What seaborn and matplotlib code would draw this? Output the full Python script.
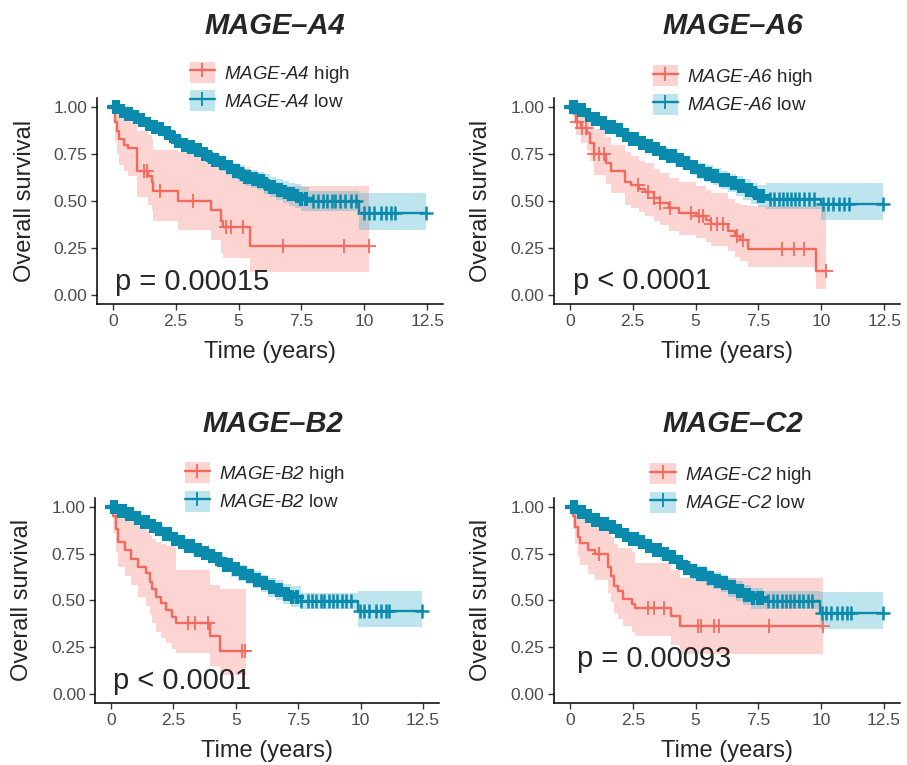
import numpy as np
import pandas as pd
import matplotlib
matplotlib.use("Agg")
import matplotlib.pyplot as plt
from matplotlib.patches import Patch
from matplotlib.lines import Line2D
import seaborn as sns

sns.set_style("ticks")
plt.rcParams["font.family"] = ["Liberation Sans", "DejaVu Sans"]
plt.rcParams["mathtext.fontset"] = "custom"
plt.rcParams["mathtext.rm"] = "Liberation Sans:italic"
plt.rcParams["mathtext.it"] = "Liberation Sans:italic"
plt.rcParams["mathtext.bf"] = "Liberation Sans:bold"

# ---------------- data ----------------
genes = ["A4", "A6", "B2", "C2"]
pvals = ["p = 0.00015", "p < 0.0001", "p < 0.0001", "p = 0.00093"]

# ---- MAGE-A4 ----
a4_high_t = [0, 0.1, 0.17, 0.25, 0.45, 0.62, 0.95, 1.4, 1.55, 1.6, 2.6, 3.92, 4.3, 4.38, 5.45]
a4_high_s = [1.0, 0.92, 0.87, 0.83, 0.80, 0.78, 0.66, 0.63, 0.60, 0.55, 0.50, 0.45, 0.39, 0.36, 0.26]
a4_high_lo = [1.0, 0.82, 0.75, 0.69, 0.66, 0.63, 0.52, 0.48, 0.45, 0.39, 0.345, 0.29, 0.22, 0.195, 0.12]
a4_high_hi = [1.0, 1.0, 0.99, 0.97, 0.95, 0.93, 0.87, 0.85, 0.83, 0.77, 0.76, 0.73, 0.70, 0.68, 0.58]
a4_high_end = 10.2
a4_high_cens = [1.25, 1.38, 1.88, 3.2, 4.5, 4.72, 5.19, 6.77, 9.2, 10.2]

a4_low_t = [0, 0.25, 0.5, 0.75, 1.0, 1.25, 1.5, 1.75, 2.0, 2.25, 2.5, 2.75, 3.0, 3.25, 3.5, 3.75,
            4.0, 4.25, 4.5, 4.75, 5.0, 5.25, 5.5, 5.75, 6.0, 6.25, 6.5, 6.75, 7.0, 7.25, 7.5, 7.8, 9.8]
a4_low_s = [1.0, 0.98, 0.965, 0.945, 0.93, 0.91, 0.895, 0.88, 0.86, 0.84, 0.82, 0.80, 0.785, 0.77, 0.75, 0.735,
            0.72, 0.70, 0.68, 0.66, 0.645, 0.625, 0.615, 0.605, 0.59, 0.575, 0.56, 0.545, 0.535, 0.525, 0.51, 0.497, 0.435]
a4_low_lo = [1.0, 0.97, 0.952, 0.93, 0.913, 0.892, 0.875, 0.858, 0.836, 0.815, 0.793, 0.772, 0.755, 0.738, 0.716, 0.70,
             0.683, 0.661, 0.64, 0.618, 0.601, 0.579, 0.567, 0.555, 0.538, 0.521, 0.504, 0.487, 0.474, 0.462, 0.445, 0.445, 0.345]
a4_low_hi = [1.0, 0.99, 0.978, 0.96, 0.947, 0.928, 0.915, 0.902, 0.884, 0.865, 0.847, 0.828, 0.815, 0.802, 0.784, 0.77,
             0.757, 0.739, 0.72, 0.702, 0.689, 0.671, 0.663, 0.655, 0.642, 0.629, 0.616, 0.603, 0.596, 0.588, 0.575, 0.55, 0.543]
a4_low_end = 12.45
a4_low_cens = [0.05, 0.12, 0.2, 0.33, 0.41, 0.52, 0.66, 0.74, 0.88, 0.97, 1.1, 1.22, 1.37, 1.46, 1.6, 1.72,
               1.86, 1.95, 2.1, 2.24, 2.38, 2.5, 2.63, 2.79, 2.9, 3.05, 3.18, 3.31, 3.47, 3.6, 3.72, 3.88,
               4.0, 4.14, 4.29, 4.41, 4.57, 4.7, 4.83, 4.98, 5.12, 5.25, 5.4, 5.56, 5.69, 5.82, 5.97, 6.1,
               6.26, 6.4, 6.55, 6.7, 6.86, 7.0, 7.16, 7.32, 7.5, 7.68,
               7.96, 8.15, 8.35, 8.5, 8.7, 8.85, 9.05, 9.25, 9.45, 9.65,
               10.0, 10.2, 10.4, 10.65, 10.85, 11.05, 11.2, 12.45]

# ---- MAGE-A6 ----
a6_high_t = [0, 0.15, 0.25, 0.45, 0.7, 0.8, 0.95, 1.43, 1.63, 2.2, 2.45, 2.75, 3.0, 3.35, 3.6, 3.95,
             4.33, 5.0, 5.4, 5.6, 6.3, 6.55, 6.75, 7.1, 9.8]
a6_high_s = [1.0, 0.96, 0.92, 0.89, 0.86, 0.81, 0.75, 0.70, 0.66, 0.60, 0.585, 0.565, 0.545, 0.515, 0.49, 0.46,
             0.435, 0.42, 0.40, 0.375, 0.34, 0.31, 0.29, 0.245, 0.125]
a6_high_lo = [1.0, 0.91, 0.85, 0.81, 0.77, 0.71, 0.64, 0.59, 0.54, 0.48, 0.46, 0.44, 0.42, 0.39, 0.37, 0.34,
              0.32, 0.30, 0.28, 0.26, 0.23, 0.20, 0.18, 0.145, 0.03]
a6_high_hi = [1.0, 1.0, 0.99, 0.97, 0.95, 0.92, 0.88, 0.84, 0.80, 0.76, 0.74, 0.71, 0.70, 0.67, 0.65, 0.62,
              0.60, 0.58, 0.56, 0.54, 0.51, 0.49, 0.48, 0.47, 0.47]
a6_high_end = 10.2
a6_high_cens = [0.3, 0.5, 0.63, 0.96, 1.16, 1.36, 2.7, 3.1, 3.35, 3.6, 4.0, 4.8, 5.13, 5.3, 5.6, 5.85,
                6.1, 6.65, 6.9, 8.45, 8.9, 9.3, 10.2]

a6_low_t = [0, 0.3, 0.6, 0.9, 1.2, 1.5, 1.8, 2.1, 2.4, 2.7, 3.0, 3.3, 3.6, 3.9, 4.2, 4.5, 4.8, 5.1,
            5.4, 5.7, 6.0, 6.3, 6.6, 6.9, 7.2, 7.5, 7.8, 10.0]
a6_low_s = [1.0, 0.985, 0.955, 0.935, 0.915, 0.895, 0.875, 0.85, 0.83, 0.81, 0.79, 0.775, 0.755, 0.74, 0.72,
            0.70, 0.68, 0.66, 0.645, 0.63, 0.61, 0.595, 0.58, 0.56, 0.54, 0.525, 0.51, 0.485]
a6_low_lo = [1.0, 0.975, 0.942, 0.92, 0.898, 0.876, 0.854, 0.827, 0.805, 0.783, 0.762, 0.745, 0.723, 0.706, 0.684,
             0.662, 0.64, 0.618, 0.601, 0.584, 0.562, 0.545, 0.528, 0.506, 0.484, 0.467, 0.455, 0.40]
a6_low_hi = [1.0, 0.995, 0.968, 0.95, 0.932, 0.914, 0.896, 0.873, 0.855, 0.837, 0.818, 0.805, 0.787, 0.774, 0.756,
             0.738, 0.72, 0.702, 0.689, 0.676, 0.658, 0.645, 0.632, 0.614, 0.596, 0.583, 0.595, 0.595]
a6_low_end = 12.45
a6_low_cens = [0.07, 0.15, 0.24, 0.36, 0.45, 0.57, 0.69, 0.78, 0.91, 1.03, 1.14, 1.27, 1.39, 1.5, 1.63, 1.77,
               1.9, 2.02, 2.15, 2.29, 2.41, 2.55, 2.68, 2.81, 2.95, 3.08, 3.21, 3.36, 3.49, 3.62, 3.76, 3.9,
               4.03, 4.17, 4.3, 4.46, 4.59, 4.72, 4.86, 5.0, 5.14, 5.29, 5.43, 5.58, 5.71, 5.85, 6.0, 6.14,
               6.29, 6.43, 6.58, 6.72, 6.88, 7.03, 7.19, 7.35, 7.52, 7.7,
               7.95, 8.12, 8.3, 8.46, 8.62, 8.8, 8.96, 9.12, 9.3, 9.5, 9.7,
               10.05, 10.25, 10.45, 10.7, 10.9, 11.1, 12.45]

# ---- MAGE-B2 ----
b2_high_t = [0, 0.1, 0.2, 0.3, 0.55, 0.8, 1.1, 1.4, 1.55, 1.65, 1.8, 2.0, 2.2, 2.45, 2.6, 3.97, 4.37]
b2_high_s = [1.0, 0.95, 0.88, 0.81, 0.77, 0.72, 0.68, 0.645, 0.60, 0.56, 0.52, 0.485, 0.45, 0.41, 0.38, 0.31, 0.23]
b2_high_lo = [1.0, 0.86, 0.76, 0.68, 0.63, 0.58, 0.52, 0.47, 0.42, 0.38, 0.33, 0.30, 0.27, 0.24, 0.22, 0.15, 0.10]
b2_high_hi = [1.0, 1.0, 0.99, 0.97, 0.95, 0.93, 0.90, 0.87, 0.85, 0.83, 0.81, 0.80, 0.79, 0.79, 0.66, 0.58, 0.56]
b2_high_end = 5.4
b2_high_cens = [3.1, 3.36, 3.9, 5.23, 5.37]

b2_low_t = [0, 0.3, 0.6, 0.9, 1.2, 1.5, 1.8, 2.1, 2.4, 2.7, 3.0, 3.3, 3.6, 3.9, 4.2, 4.5, 4.8, 5.1,
            5.4, 5.7, 6.0, 6.3, 6.6, 6.9, 7.2, 7.6, 9.9]
b2_low_s = [1.0, 0.98, 0.96, 0.94, 0.92, 0.90, 0.88, 0.855, 0.83, 0.81, 0.79, 0.77, 0.755, 0.735, 0.72,
            0.69, 0.665, 0.645, 0.63, 0.61, 0.59, 0.57, 0.555, 0.535, 0.52, 0.495, 0.443]
b2_low_lo = [1.0, 0.97, 0.947, 0.925, 0.903, 0.881, 0.859, 0.832, 0.807, 0.785, 0.762, 0.74, 0.723, 0.701,
             0.684, 0.652, 0.625, 0.603, 0.586, 0.564, 0.542, 0.52, 0.503, 0.481, 0.464, 0.452, 0.358]
b2_low_hi = [1.0, 0.99, 0.973, 0.955, 0.937, 0.919, 0.901, 0.878, 0.853, 0.835, 0.818, 0.8, 0.787, 0.769,
             0.756, 0.728, 0.705, 0.687, 0.674, 0.656, 0.638, 0.62, 0.607, 0.589, 0.576, 0.54, 0.55]
b2_low_end = 12.45
b2_low_cens = [0.04, 0.11, 0.22, 0.31, 0.43, 0.55, 0.64, 0.77, 0.86, 0.99, 1.12, 1.24, 1.35, 1.48, 1.59, 1.73,
               1.84, 1.98, 2.12, 2.23, 2.36, 2.49, 2.62, 2.75, 2.88, 3.02, 3.15, 3.29, 3.42, 3.55, 3.7, 3.83,
               3.97, 4.1, 4.24, 4.37, 4.52, 4.66, 4.79, 4.93, 5.07, 5.22, 5.35, 5.5, 5.64, 5.78, 5.93, 6.07,
               6.21, 6.36, 6.51, 6.66, 6.8, 6.96, 7.11, 7.27, 7.44, 7.6,
               7.88, 8.05, 8.22, 8.4, 8.55, 8.72, 8.9, 9.05, 9.25, 9.42, 9.6,
               9.98, 10.15, 10.35, 10.6, 10.8, 11.0, 11.15, 12.45]

# ---- MAGE-C2 ----
c2_high_t = [0, 0.12, 0.2, 0.3, 0.4, 0.7, 1.0, 1.5, 1.62, 1.75, 1.9, 2.1, 2.45, 2.6, 4.03, 4.36]
c2_high_s = [1.0, 0.95, 0.89, 0.84, 0.805, 0.77, 0.75, 0.68, 0.63, 0.575, 0.55, 0.505, 0.48, 0.46, 0.415, 0.365]
c2_high_lo = [1.0, 0.88, 0.80, 0.73, 0.69, 0.64, 0.61, 0.54, 0.49, 0.43, 0.40, 0.36, 0.33, 0.31, 0.26, 0.21]
c2_high_hi = [1.0, 1.0, 0.99, 0.97, 0.95, 0.93, 0.92, 0.88, 0.84, 0.80, 0.78, 0.78, 0.76, 0.70, 0.66, 0.62]
c2_high_end = 10.07
c2_high_cens = [1.17, 3.1, 3.36, 3.76, 5.09, 5.2, 5.75, 5.95, 7.94, 10.07]

c2_low_t = [0, 0.3, 0.6, 0.9, 1.2, 1.5, 1.8, 2.1, 2.4, 2.7, 3.0, 3.3, 3.6, 3.9, 4.2, 4.5, 4.8, 5.1,
            5.4, 5.7, 6.0, 6.3, 6.6, 6.9, 7.2, 7.7, 9.94]
c2_low_s = [1.0, 0.975, 0.95, 0.93, 0.91, 0.89, 0.87, 0.85, 0.83, 0.81, 0.79, 0.77, 0.75, 0.73, 0.705,
            0.675, 0.655, 0.64, 0.62, 0.605, 0.59, 0.57, 0.55, 0.53, 0.51, 0.495, 0.434]
c2_low_lo = [1.0, 0.965, 0.937, 0.915, 0.893, 0.871, 0.849, 0.827, 0.805, 0.783, 0.762, 0.74, 0.718, 0.696,
             0.669, 0.637, 0.615, 0.598, 0.576, 0.559, 0.542, 0.52, 0.498, 0.476, 0.454, 0.452, 0.346]
c2_low_hi = [1.0, 0.985, 0.963, 0.945, 0.927, 0.909, 0.891, 0.873, 0.855, 0.837, 0.818, 0.8, 0.782, 0.764,
             0.741, 0.713, 0.695, 0.682, 0.664, 0.651, 0.638, 0.62, 0.602, 0.584, 0.566, 0.55, 0.544]
c2_low_end = 12.45
c2_low_cens = [0.06, 0.14, 0.23, 0.35, 0.44, 0.56, 0.67, 0.79, 0.9, 1.01, 1.13, 1.25, 1.38, 1.49, 1.62, 1.74,
               1.88, 2.0, 2.13, 2.27, 2.4, 2.52, 2.66, 2.78, 2.92, 3.06, 3.19, 3.33, 3.45, 3.59, 3.73, 3.86,
               4.01, 4.15, 4.28, 4.43, 4.56, 4.69, 4.84, 4.97, 5.11, 5.26, 5.39, 5.53, 5.67, 5.8, 5.95, 6.09,
               6.23, 6.38, 6.53, 6.68, 6.83, 6.98, 7.13, 7.3, 7.47, 7.63,
               7.9, 8.08, 8.25, 8.42, 8.58, 8.75, 8.92, 9.1, 9.28, 9.46, 9.65,
               10.02, 10.2, 10.4, 10.62, 10.82, 11.02, 11.18, 12.45]

xticks = [0, 2.5, 5, 7.5, 10, 12.5]
xtick_labels = ["0", "2.5", "5", "7.5", "10", "12.5"]
yticks = [0.0, 0.25, 0.5, 0.75, 1.0]
ytick_labels = ["0.00", "0.25", "0.50", "0.75", "1.00"]

panels = [
    dict(high=(a4_high_t, a4_high_s, a4_high_lo, a4_high_hi, a4_high_end, a4_high_cens),
         low=(a4_low_t, a4_low_s, a4_low_lo, a4_low_hi, a4_low_end, a4_low_cens)),
    dict(high=(a6_high_t, a6_high_s, a6_high_lo, a6_high_hi, a6_high_end, a6_high_cens),
         low=(a6_low_t, a6_low_s, a6_low_lo, a6_low_hi, a6_low_end, a6_low_cens)),
    dict(high=(b2_high_t, b2_high_s, b2_high_lo, b2_high_hi, b2_high_end, b2_high_cens),
         low=(b2_low_t, b2_low_s, b2_low_lo, b2_low_hi, b2_low_end, b2_low_cens)),
    dict(high=(c2_high_t, c2_high_s, c2_high_lo, c2_high_hi, c2_high_end, c2_high_cens),
         low=(c2_low_t, c2_low_s, c2_low_lo, c2_low_hi, c2_low_end, c2_low_cens)),
]

# ---------------- layout / style ----------------
RED = "#F5695C"
BLUE = "#0A8AAD"
RED_FILL = "#F8766D"
BLUE_FILL = "#2AA7C4"

W, H = 907, 765
fig = plt.figure(figsize=(W / 100, H / 100), dpi=100)

# axes rectangles in pixels: left, top, right, bottom
rects = [(97, 97.6, 443, 304), (554, 97.6, 900, 304),
         (95.4, 497.6, 438.6, 703), (554.3, 497.6, 899.7, 703)]
title_pos = [(275, 26), (733, 26), (273, 424), (733, 424)]
legend_pos = [(270, 86.5), (733, 90), (265, 487), (731, 488)]
ylabel_x = [25, 481, 22, 481]
pval_pos = [(0.08, 0.027), (0.12, 0.03), (0.09, 0.027), (0.28, 0.142)]


def draw_group(ax, t, s, lo, hi, end, cens, color, fill, mew_dense, mew_sparse):
    tt = list(t) + [end]
    ss = list(s) + [s[-1]]
    ll = list(lo) + [lo[-1]]
    hh = list(hi) + [hi[-1]]
    ax.fill_between(tt, ll, hh, step="post", color=fill, alpha=0.3, linewidth=0)
    df = pd.DataFrame({"time": tt, "surv": ss})
    sns.lineplot(data=df, x="time", y="surv", ax=ax, color=color, linewidth=1.7,
                 drawstyle="steps-post", estimator=None, sort=False)
    ta = np.asarray(t)
    sa = np.asarray(s)
    c = np.asarray(cens)
    idx = np.searchsorted(ta, c, side="right") - 1
    dense = c < ta[-2]
    ax.plot(c[dense], sa[idx][dense], linestyle="none", marker="+", markersize=9.5,
            markeredgewidth=mew_dense, color=color)
    ax.plot(c[~dense], sa[idx][~dense], linestyle="none", marker="+", markersize=9.5,
            markeredgewidth=mew_sparse, color=color)


for i, (g, pv, pan) in enumerate(zip(genes, pvals, panels)):
    l, t_, r, b = rects[i]
    ax = fig.add_axes([l / W, (H - b) / H, (r - l) / W, (b - t_) / H])
    # ribbons first, then lines
    draw_group(ax, *pan["high"], RED, RED_FILL, 1.3, 1.3)
    draw_group(ax, *pan["low"], BLUE, BLUE_FILL, 3.0, 1.8)

    ax.set_xlim(-0.625, 13.125)
    ax.set_ylim(-0.05, 1.05)
    ax.set_xticks(xticks)
    ax.set_xticklabels(xtick_labels)
    ax.set_yticks(yticks)
    ax.set_yticklabels(ytick_labels)
    ax.tick_params(axis="both", labelsize=12.5, labelcolor="#4D4D4D", color="#333333",
                   length=4.5, width=1.0, pad=2.5)
    for sp in ["top", "right"]:
        ax.spines[sp].set_visible(False)
    for sp in ["left", "bottom"]:
        ax.spines[sp].set_linewidth(1.1)
        ax.spines[sp].set_color("black")
    ax.set_xlabel("Time (years)", fontsize=17, labelpad=9)
    ax.set_ylabel("")
    fig.text(ylabel_x[i] / W, (H - (t_ + b) / 2) / H, "Overall survival", rotation=90,
             ha="center", va="center", fontsize=17)

    ax.text(pval_pos[i][0], pval_pos[i][1], pv, ha="left", va="baseline", fontsize=21)

    fig.text(title_pos[i][0] / W, (H - title_pos[i][1]) / H, f"MAGE–{g}",
             ha="center", va="center", fontsize=21, fontweight="bold", fontstyle="italic")

    handles = [
        (Patch(facecolor=RED_FILL, alpha=0.3, edgecolor="none"),
         Line2D([], [], color=RED, linewidth=1.7, marker="+", markersize=9.5, markeredgewidth=1.3)),
        (Patch(facecolor=BLUE_FILL, alpha=0.3, edgecolor="none"),
         Line2D([], [], color=BLUE, linewidth=1.7, marker="+", markersize=9.5, markeredgewidth=1.3)),
    ]
    labels = [rf"$\mathit{{MAGE}}$-$\mathit{{{g}}}$ high", rf"$\mathit{{MAGE}}$-$\mathit{{{g}}}$ low"]
    ax.legend(handles, labels, loc="center",
              bbox_to_anchor=(legend_pos[i][0] / W, (H - legend_pos[i][1]) / H),
              bbox_transform=fig.transFigure, frameon=False, fontsize=13.5,
              handlelength=1.35, handleheight=1.35, handletextpad=0.5,
              labelspacing=0.3, borderpad=0, numpoints=1)

fig.savefig("out.png", dpi=100)
